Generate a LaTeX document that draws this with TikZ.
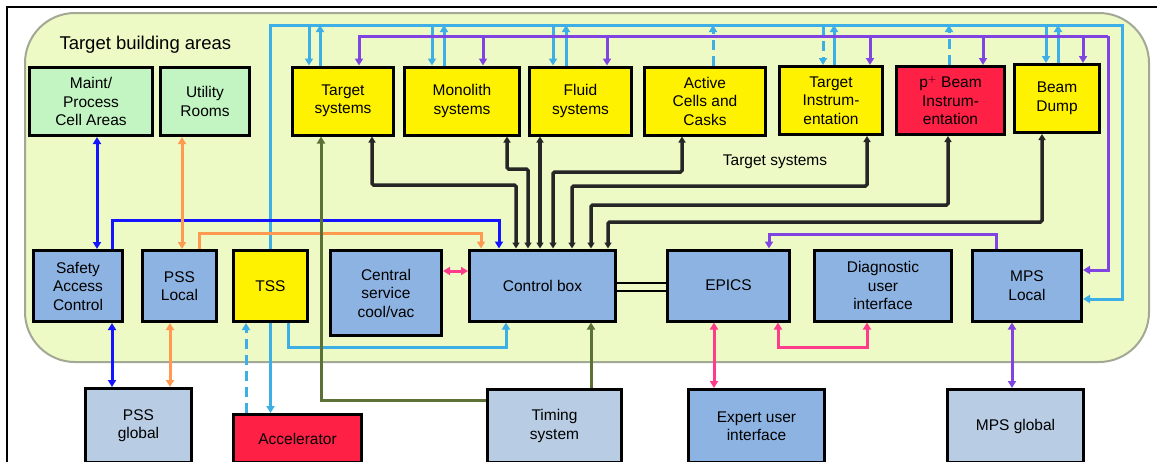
\documentclass[tikz,border=0pt]{standalone}
\usepackage{fontspec}
\setmainfont{Liberation Sans}
\usetikzlibrary{arrows.meta}

\definecolor{regionfill}{HTML}{EDFAC6}
\definecolor{regionline}{HTML}{A3A895}
\definecolor{boxblue}{HTML}{8DB3E2}
\definecolor{paleblue}{HTML}{B8CCE4}
\definecolor{mint}{HTML}{C3F5C3}
\definecolor{hotred}{HTML}{FF2046}
\definecolor{sky}{HTML}{3DAEE6}
\definecolor{purp}{HTML}{8045E0}
\definecolor{pureblue}{HTML}{1414FF}
\definecolor{orng}{HTML}{FF9A50}
\definecolor{pnk}{HTML}{FF3C8C}
\definecolor{olv}{HTML}{5C7136}

\tikzset{
  box/.style={draw=black, line width=3pt, align=center, inner sep=0pt,
    font=\fontsize{15.5}{18.5}\selectfont},
  toprow/.style={box, minimum height=68pt},
  midrow/.style={box, minimum height=71pt},
  lowrow/.style={box, fill=paleblue},
  tip/.tip={Triangle[length=7pt,width=8pt]},
  smalltip/.tip={Triangle[length=6pt,width=7pt]},
  wire/.style={line width=3pt},
  skyline/.style={wire, draw=sky},
  purpline/.style={wire, draw=purp},
  blueline/.style={wire, draw=pureblue},
  orngline/.style={wire, draw=orng},
  pnkline/.style={wire, draw=pnk},
  olvline/.style={wire, draw=olv},
  blkline/.style={line width=3.5pt, draw=black!85, rounded corners=1.5pt},
  dashline/.style={dash pattern=on 10pt off 6pt},
}

\begin{document}
\begin{tikzpicture}[x=1pt, y=-1pt, >=tip]
\clip (0,0) rectangle (1157,461);
\fill[white] (0,0) rectangle (1157,461);

% building area
\draw[fill=regionfill, draw=regionline, line width=2pt, rounded corners=50pt]
  (25,13) rectangle (1149,362);
\draw[line width=2.5pt] (7,480) -- (7,7) -- (1170,7);

\node[anchor=west, font=\fontsize{18.5}{21}\selectfont] (title) at (56,45) {Target building areas};

% upper row
\node[toprow, fill=mint, minimum width=123pt] (maint) at (91,101.5) {Maint/\\Process\\Cell Areas};
\node[toprow, fill=mint, minimum width=89pt] (util) at (205,101.5) {Utility\\Rooms};
\node[toprow, fill=yellow, minimum width=101pt] (tgt) at (343,101) {Target\\systems};
\node[toprow, fill=yellow, minimum width=115pt] (mono) at (462,101) {Monolith\\systems};
\node[toprow, fill=yellow, minimum width=102pt] (fluid) at (580.5,101) {Fluid\\systems};
\node[toprow, fill=yellow, minimum width=121pt] (active) at (705,101) {Active\\Cells and\\Casks};
\node[toprow, fill=yellow, minimum width=103pt] (tinst) at (831,100.5) {Target\\Instrum-\\entation};
\node[toprow, fill=hotred, minimum width=108pt] (pbeam) at (950.5,100.5) {p$^{+}$ Beam\\Instrum-\\entation};
\node[toprow, fill=yellow, minimum width=85pt] (dump) at (1057,98.5) {Beam\\Dump};

% middle row
\node[midrow, fill=boxblue, minimum width=89pt] (sac) at (78,286) {Safety\\Access\\Control};
\node[midrow, fill=boxblue, minimum width=74pt] (pssl) at (179.5,286) {PSS\\Local};
\node[midrow, fill=yellow, minimum width=74pt] (tss) at (270.5,286) {TSS};
\node[box, fill=boxblue, minimum width=111pt, minimum height=85pt] (central) at (386,293) {Central\\service\\cool/vac};
\node[midrow, fill=boxblue, minimum width=146pt] (ctrl) at (542.5,285.5) {Control box};
\node[midrow, fill=boxblue, minimum width=122pt] (epics) at (728.5,285.5) {EPICS};
\node[midrow, fill=boxblue, minimum width=137pt] (diag) at (883,285.5) {Diagnostic\\user\\interface};
\node[midrow, fill=boxblue, minimum width=109pt] (mpsl) at (1027,285.5) {MPS\\Local};

% lower row, outside the building
\node[lowrow, minimum width=106pt, minimum height=74pt] (pssg) at (138.5,425.5) {PSS\\global};
\node[box, fill=hotred, minimum width=128pt, minimum height=48pt] (acc) at (297.5,438.5) {Accelerator};
\node[lowrow, minimum width=134pt, minimum height=73pt] (timing) at (554.5,426) {Timing\\system};
\node[box, fill=boxblue, minimum width=136pt, minimum height=73pt] (expert) at (756.5,426) {Expert user\\interface};
\node[lowrow, minimum width=136pt, minimum height=73pt] (mpsg) at (1015.5,426) {MPS global};

\node[font=\fontsize{15.5}{18}\selectfont] (tslabel) at (775,162) {Target systems};

% light blue bus along the top
\draw[skyline,->] (tss.north) -- (270.5,25) -- (1122,25) |- (mpsl.east |- 0,299);
\draw[skyline,->] (tss.south) -- (acc.north -| tss.south);
\draw[skyline,dashline,->] (246,0 |- acc.north) -- (246,0 |- tss.south);
\draw[skyline,->] (288,0 |- tss.south) |- (506,347) -- (506,0 |- ctrl.south);
\draw[skyline,->] (309,25) -- (309,0 |- tgt.north);
\draw[skyline,->] (320,0 |- tgt.north) -- (320,25);
\draw[skyline,->] (432,25) -- (432,0 |- mono.north);
\draw[skyline,->] (444,0 |- mono.north) -- (444,25);
\draw[skyline,->] (553,25) -- (553,0 |- fluid.north);
\draw[skyline,->] (566,0 |- fluid.north) -- (566,25);
\draw[skyline,dashline,->] (713,0 |- active.north) -- (713,25);
\draw[skyline,dashline,->] (823,25) -- (823,0 |- tinst.north);
\draw[skyline,->] (834,0 |- tinst.north) -- (834,25);
\draw[skyline,dashline,->] (949,0 |- pbeam.north) -- (949,25);
\draw[skyline,->] (1046,25) -- (1046,0 |- dump.north);
\draw[skyline,->] (1058,0 |- dump.north) -- (1058,25);

% purple bus
\draw[purpline,->] (1108,36) -- (359,36) -- (359,0 |- tgt.north);
\draw[purpline,->] (1108,36) |- (mpsl.east |- 0,270);
\draw[purpline,->] (483,36) -- (483,0 |- mono.north);
\draw[purpline,->] (607,36) -- (607,0 |- fluid.north);
\draw[purpline,->] (870,36) -- (870,0 |- tinst.north);
\draw[purpline,->] (983,36) -- (983,0 |- pbeam.north);
\draw[purpline,->] (1083,36) -- (1083,0 |- dump.north);
\draw[purpline,->] (996,0 |- mpsl.north) |- (769,234) -- (769,0 |- epics.north);
\draw[purpline,<->] (1012,0 |- mpsl.south) -- (1012,0 |- mpsg.north);

% safety links
\draw[blueline,<->] (97,0 |- maint.south) -- (97,0 |- sac.north);
\draw[blueline,<->] (112,0 |- sac.south) -- (112,0 |- pssg.north);
\draw[blueline,->] (112,0 |- sac.north) |- (499,220) -- (499,0 |- ctrl.north);
\draw[orngline,<->] (182,0 |- util.south) -- (182,0 |- pssl.north);
\draw[orngline,<->] (170,0 |- pssl.south) -- (170,0 |- pssg.north);
\draw[orngline,->] (199,0 |- pssl.north) |- (481,233) -- (481,0 |- ctrl.north);

% timing
\draw[olvline,->] (timing.west |- 0,400) -| (321,0 |- tgt.south);
\draw[olvline,->] (591,0 |- timing.north) -- (591,0 |- ctrl.south);

% pink links
\draw[pnkline,<->] (central.east |- 0,271) -- (ctrl.west |- 0,271);
\draw[pnkline,<->] (714,0 |- epics.south) -- (714,0 |- expert.north);
\draw[pnkline,<->] (778,0 |- epics.south) |- (867,347) -- (867,0 |- diag.south);

% control box to EPICS
\draw[line width=2.5pt] (ctrl.east |- 0,283) -- (epics.west |- 0,283);
\draw[line width=2.5pt] (ctrl.east |- 0,291) -- (epics.west |- 0,291);

% control box to target systems
\begin{scope}[blkline, {smalltip}-{smalltip}]
\draw (372,0 |- tgt.south) |- (516,185) -- (516,0 |- ctrl.north);
\draw (507,0 |- mono.south) |- (528,169) -- (528,0 |- ctrl.north);
\draw (540,0 |- fluid.south) -- (540,0 |- ctrl.north);
\draw (682,0 |- active.south) |- (553,172) -- (553,0 |- ctrl.north);
\draw (867,0 |- tinst.south) |- (572,186) -- (572,0 |- ctrl.north);
\draw (948,0 |- pbeam.south) |- (591,205) -- (591,0 |- ctrl.north);
\draw (1042,0 |- dump.south) |- (608,222) -- (608,0 |- ctrl.north);
\end{scope}
\end{tikzpicture}
\end{document}
